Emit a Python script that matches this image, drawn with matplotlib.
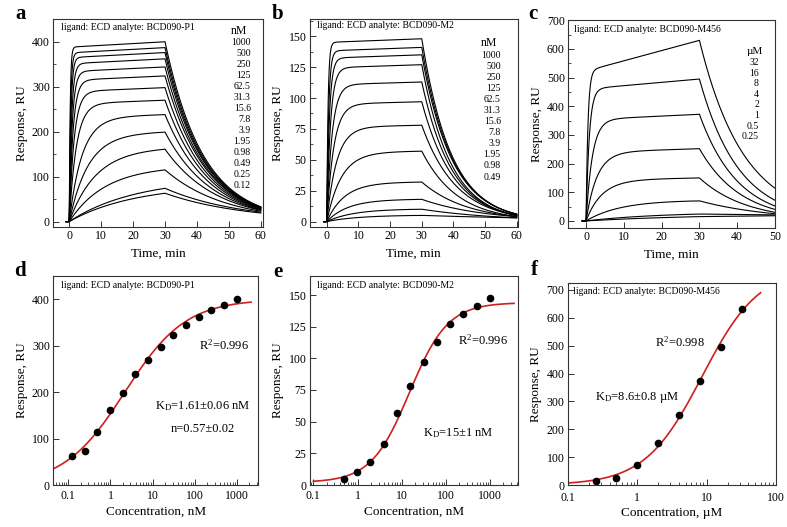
import numpy as np
import matplotlib.pyplot as plt
from matplotlib.ticker import MultipleLocator, LogLocator, NullFormatter

plt.rcParams['font.family'] = ['Liberation Serif', 'DejaVu Serif']
plt.rcParams['mathtext.fontset'] = 'custom'
plt.rcParams['mathtext.rm'] = 'Liberation Serif'
plt.rcParams['mathtext.it'] = 'Liberation Serif:italic'

# ---- BCD090-P1 (panels a, d) ----
p1_conc = [1000, 500, 250, 125, 62.5, 31.3, 15.6, 7.8, 3.9, 1.95, 0.98, 0.49, 0.25, 0.12]
p1_labels = ["1000", "500", "250", "125", "62.5", "31.3", "15.6", "7.8", "3.9",
             "1.95", "0.98", "0.49", "0.25", "0.12"]
p1_resp = [400, 387, 376, 362, 344, 324, 298, 270, 238, 199, 161, 115, 74, 63]  # RU at 30 min
p1_kobs = [3.5, 2.5, 1.9, 1.4, 1.1, 0.85, 0.65, 0.45, 0.25, 0.17, 0.12, 0.09, 0.05, 0.05]
p1_end = [33, 32, 31, 31, 30, 30, 29, 28, 27, 26, 25, 23, 21, 19]  # RU at 60 min

# ---- BCD090-M2 (panels b, e) ----
m2_conc = [1000, 500, 250, 125, 62.5, 31.3, 15.6, 7.8, 3.9, 1.95, 0.98, 0.49]
m2_labels = ["1000", "500", "250", "125", "62.5", "31.3", "15.6", "7.8", "3.9",
             "1.95", "0.98", "0.49"]
m2_resp = [148, 141, 135, 127, 113, 97, 78, 57, 32, 18, 10, 5]
m2_kobs = [2.5, 1.7, 1.2, 0.85, 0.6, 0.45, 0.32, 0.22, 0.18, 0.15, 0.12, 0.1]
m2_end = [6, 6, 6, 5, 5, 5, 5, 4, 4, 4, 3, 3]

# ---- BCD090-M456 (panels c, f) ----
m456_conc = [32, 16, 8, 4, 2, 1, 0.5, 0.25]
m456_labels = ["32", "16", "8", "4", "2", "1", "0.5", "0.25"]
m456_resp = [630, 495, 372, 252, 150, 70, 24, 15]
m456_kobs = [2.0, 1.17, 0.6, 0.35, 0.24, 0.11, 0.05, 0.03]
m456_drift = [0.17, 0.07, 0.05, 0.05, 0.05, 0.0, 0.0, 0.0]
m456_end = [114, 72, 52, 40, 30, 25, 21, 18]  # RU at 50 min

# fitted curves as drawn in panels d-f
fit_p1 = dict(rmax=400, kd=2.2, n=0.6, base=0)
fit_m2 = dict(rmax=142, kd=15, n=1.0, base=2)
fit_m456 = dict(rmax=780, kd=8.6, n=1.05, base=0)

W, H = 787, 527
fig = plt.figure(figsize=(W / 100, H / 100), dpi=100)


def add_ax(l, t, r, b):
    return fig.add_axes([l / W, 1 - b / H, (r - l) / W, (b - t) / H])


def ftext(x, y, s, **kw):
    fig.text(x / W, 1 - y / H, s, **kw)


def style(ax):
    for sp in ax.spines.values():
        sp.set_linewidth(0.8)
        sp.set_color('#333333')
    ax.tick_params(which='both', direction='in', labelsize=8.5, pad=2.5,
                   top=False, right=False, color='#333333')
    ax.tick_params(which='major', length=4, width=0.7)
    ax.tick_params(which='minor', length=2, width=0.6)


def sensorgram(ax, resp, kobs, end, t_end, drift):
    drift = np.broadcast_to(drift, (len(resp),))
    t_on = np.linspace(0, 30, 400)
    t_off = np.linspace(30, t_end, 300)
    for R, k, Re, w in zip(resp, kobs, end, drift):
        assoc = R * ((1 - w) * (1 - np.exp(-k * t_on)) / (1 - np.exp(-30 * k)) + w * t_on / 30)
        kd = np.log(R / Re) / (t_end - 30)
        diss = R * np.exp(-kd * (t_off - 30))
        t = np.concatenate([[-1, 0], t_on, t_off])
        r = np.concatenate([[0, 0], assoc, diss])
        ax.plot(t, r, color='black', lw=0.8)


def hill(c, rmax, kd, n, base):
    c = np.asarray(c, dtype=float)
    return base + rmax * c ** n / (kd ** n + c ** n)


# ---------------- top row ----------------
ax_a = add_ax(53.3, 19.3, 263.3, 226.5)
sensorgram(ax_a, p1_resp, p1_kobs, p1_end, 60, 0.03)
ax_a.set_xlim(-5, 60.8)
ax_a.set_ylim(-11, 450)
ax_a.set_yticks([0, 100, 200, 300, 400])

ax_b = add_ax(310, 19, 517.7, 226.5)
sensorgram(ax_b, m2_resp, m2_kobs, m2_end, 60, 0.02)
ax_b.set_xlim(-5.3, 60.3)
ax_b.set_ylim(-4, 164)
ax_b.set_yticks([0, 25, 50, 75, 100, 125, 150])

ax_c = add_ax(568.3, 20, 775, 227.5)
sensorgram(ax_c, m456_resp, m456_kobs, m456_end, 50, m456_drift)
ax_c.set_xlim(-4.7, 50)
ax_c.set_ylim(-23, 701)
ax_c.set_yticks(range(0, 701, 100))

for ax in (ax_a, ax_b, ax_c):
    ax.set_xticks(range(0, 61 if ax is not ax_c else 51, 10))
    ax.set_xlabel('Time, min', fontsize=9.5, labelpad=4)
    ax.set_ylabel('Response, RU', fontsize=9.5, labelpad=3)
    style(ax)
ax_a.yaxis.set_minor_locator(MultipleLocator(50))
ax_b.yaxis.set_minor_locator(MultipleLocator(12.5))
ax_c.yaxis.set_minor_locator(MultipleLocator(50))

# ---------------- bottom row ----------------
ax_d = add_ax(53.3, 276, 258.3, 485)
xd = np.logspace(np.log10(0.046), np.log10(2200), 300)
ax_d.plot(xd, hill(xd, **fit_p1), color='#cc2020', lw=1.2)
ax_d.plot(p1_conc, p1_resp, 'o', color='black', ms=4.5)
ax_d.set_xlim(0.044, 3260)
ax_d.set_ylim(0, 450)
ax_d.set_yticks([0, 100, 200, 300, 400])
ax_d.set_xlabel('Concentration, nM', fontsize=9.5, labelpad=3)

ax_e = add_ax(310, 276, 518.3, 485)
xe = np.logspace(-1, np.log10(3500), 300)
ax_e.plot(xe, hill(xe, **fit_m2), color='#cc2020', lw=1.2)
ax_e.plot(m2_conc, m2_resp, 'o', color='black', ms=4.5)
ax_e.set_xlim(0.084, 4370)
ax_e.set_ylim(0, 165)
ax_e.set_yticks([0, 25, 50, 75, 100, 125, 150])
ax_e.set_xlabel('Concentration, nM', fontsize=9.5, labelpad=3)

ax_f = add_ax(568, 283, 776, 485)
xf = np.logspace(-1, np.log10(60), 300)
ax_f.plot(xf, hill(xf, **fit_m456), color='#cc2020', lw=1.2)
ax_f.plot(m456_conc, m456_resp, 'o', color='black', ms=4.5)
ax_f.set_xlim(0.1, 100)
ax_f.set_ylim(0, 725)
ax_f.set_yticks(range(0, 701, 100))
ax_f.set_xlabel('Concentration, µM', fontsize=9.5, labelpad=2)

for ax, ticks, labs in ((ax_d, [0.1, 1, 10, 100, 1000], ['0.1', '1', '10', '100', '1000']),
                        (ax_e, [0.1, 1, 10, 100, 1000], ['0.1', '1', '10', '100', '1000']),
                        (ax_f, [0.1, 1, 10, 100], ['0.1', '1', '10', '100'])):
    ax.set_xscale('log')
    ax.set_xticks(ticks, labels=labs)
    ax.xaxis.set_minor_locator(LogLocator(subs=np.arange(2, 10)))
    ax.xaxis.set_minor_formatter(NullFormatter())
    ax.set_ylabel('Response, RU', fontsize=9.5, labelpad=3)
    style(ax)
    ax.tick_params(axis='x', which='both', pad=3.5)
ax_f.tick_params(axis='x', which='both', pad=5)

# ---------------- annotations ----------------
for (x, y), name in (((61, 27.5), 'BCD090-P1'), ((316.7, 26), 'BCD090-M2'),
                     ((574.3, 29), 'BCD090-M456'), ((61, 285.7), 'BCD090-P1'),
                     ((316.7, 285.7), 'BCD090-M2'), ((573.3, 291), 'BCD090-M456')):
    ftext(x, y, 'ligand: ECD analyte: ' + name, fontsize=7, ha='left', va='center')

for (x, y), letter in (((20.7, 19.3), 'a'), ((278, 19.3), 'b'), ((533.3, 19), 'c'),
                       ((20, 276.5), 'd'), ((278, 277), 'e'), ((534, 275), 'f')):
    ftext(x, y, letter, fontsize=15, fontweight='bold', ha='center', va='baseline')

# concentration lists
ftext(239, 31, 'nM', fontsize=8.5, ha='center', va='center')
for i, lab in enumerate(p1_labels):
    ftext(250.7, 42.7 + i * 11.0, lab, fontsize=7, ha='right', va='center')
ftext(489, 43, 'nM', fontsize=8.5, ha='center', va='center')
for i, lab in enumerate(m2_labels):
    ftext(500.7, 55 + i * 11.1, lab, fontsize=7, ha='right', va='center')
ftext(755, 51.5, 'µM', fontsize=8, ha='center', va='center')
for i, lab in enumerate(m456_labels):
    ftext(759, 62.5 + i * 10.6, lab, fontsize=7, ha='right', va='center')

# fit results
ax_d.text(0.83, 0.67, 'R$^2$=0.996', transform=ax_d.transAxes, fontsize=9, ha='center', va='center')
ax_d.text(0.73, 0.378, 'K$_\\mathrm{D}$=1.61±0.06 nM', transform=ax_d.transAxes, fontsize=9,
          ha='center', va='center')
ax_d.text(0.73, 0.267, 'n=0.57±0.02', transform=ax_d.transAxes, fontsize=9, ha='center', va='center')
ax_e.text(0.83, 0.69, 'R$^2$=0.996', transform=ax_e.transAxes, fontsize=9, ha='center', va='center')
ax_e.text(0.714, 0.248, 'K$_\\mathrm{D}$=15±1 nM', transform=ax_e.transAxes, fontsize=9,
          ha='center', va='center')
ax_f.text(0.54, 0.705, 'R$^2$=0.998', transform=ax_f.transAxes, fontsize=9, ha='center', va='center')
ax_f.text(0.33, 0.435, 'K$_\\mathrm{D}$=8.6±0.8 µM', transform=ax_f.transAxes, fontsize=9,
          ha='center', va='center')

fig.savefig('out.png', dpi=100)
